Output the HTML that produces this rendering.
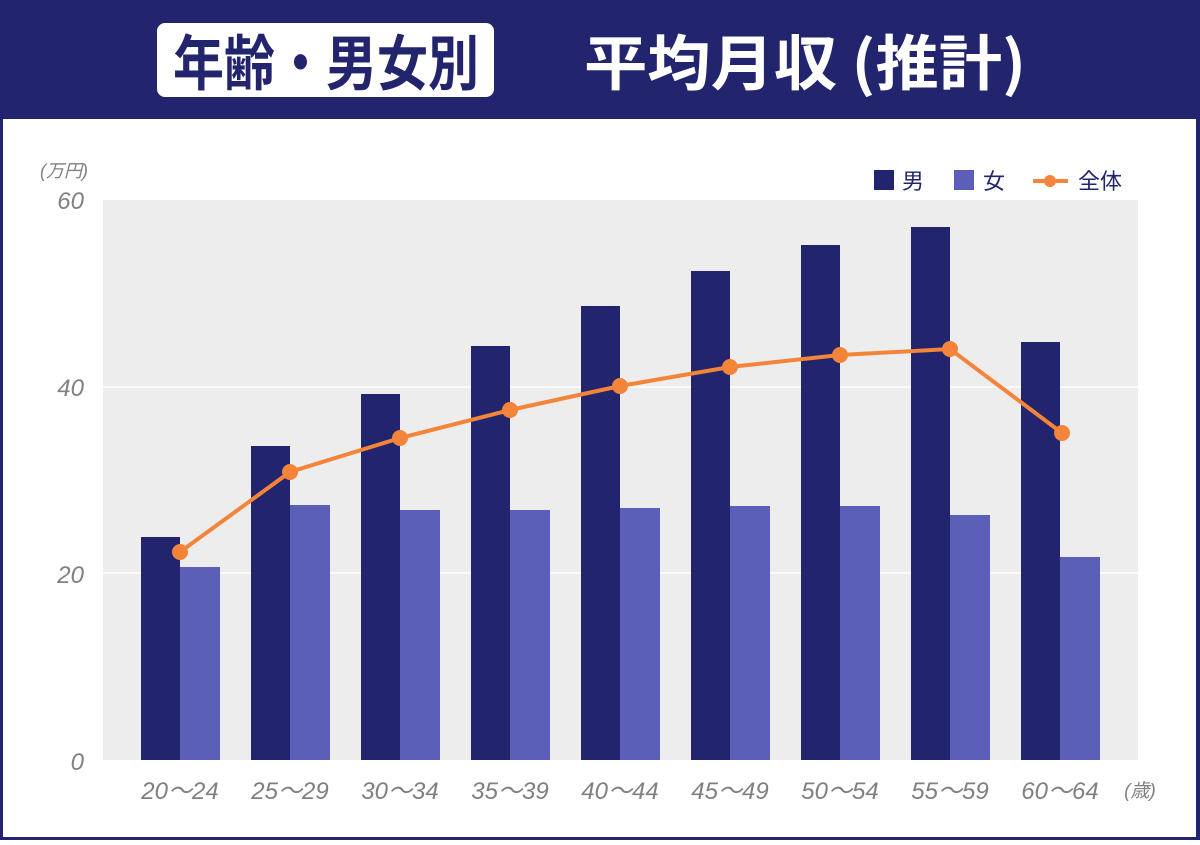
<!DOCTYPE html>
<html><head><meta charset="utf-8"><style>
body{margin:0;width:1200px;height:840px;overflow:hidden;background:#fff;font-family:"Liberation Sans","Noto Sans CJK JP",sans-serif}
</style></head><body>
<svg width="1200" height="840" xmlns="http://www.w3.org/2000/svg" font-family="Liberation Sans, Noto Sans CJK JP, sans-serif">
<rect x="0" y="0" width="1200" height="840" fill="#22256e"/>
<rect x="3" y="119" width="1193" height="718" fill="#fff"/>
<rect x="157" y="23" width="337" height="74" rx="8" fill="#fff"/>
<text x="173" y="85" font-size="60" font-weight="bold" fill="#22256e" font-family="Noto Sans CJK JP, sans-serif" textLength="306" lengthAdjust="spacingAndGlyphs">年齢・男女別</text>
<text x="584" y="85" font-size="60" font-weight="bold" fill="#fff" font-family="Noto Sans CJK JP, sans-serif" textLength="442" lengthAdjust="spacingAndGlyphs">平均月収 (推計)</text>
<rect x="103" y="200" width="1035" height="560" fill="#ededed"/>
<g stroke="#fff" stroke-width="1.5"><line x1="103" y1="387" x2="1138" y2="387"/><line x1="103" y1="573" x2="1138" y2="573"/></g>
<g fill="#808080" font-style="italic" font-size="24" text-anchor="end">
<text x="84" y="209">60</text><text x="84" y="396">40</text><text x="84" y="583">20</text><text x="84" y="770">0</text>
<text x="88" y="177" font-size="18">(万円)</text>
</g>
<g fill="#22256e">
<rect x="141" y="537" width="39" height="223"/><rect x="251" y="446" width="39" height="314"/><rect x="361" y="394" width="39" height="366"/><rect x="471" y="346" width="39" height="414"/><rect x="581" y="306" width="39" height="454"/><rect x="691" y="271" width="39" height="489"/><rect x="801" y="245" width="39" height="515"/><rect x="911" y="227" width="39" height="533"/><rect x="1021" y="342" width="39" height="418"/>
</g>
<g fill="#5b5fb8">
<rect x="180" y="567" width="40" height="193"/><rect x="290" y="505" width="40" height="255"/><rect x="400" y="510" width="40" height="250"/><rect x="510" y="510" width="40" height="250"/><rect x="620" y="508" width="40" height="252"/><rect x="730" y="506" width="40" height="254"/><rect x="840" y="506" width="40" height="254"/><rect x="950" y="515" width="40" height="245"/><rect x="1060" y="557" width="40" height="203"/>
</g>
<polyline points="180,552 290,472 400,438 510,410 620,386 730,367 840,355 950,349 1062,433" fill="none" stroke="#f4843a" stroke-width="4"/>
<g fill="#f4843a">
<circle cx="180" cy="552" r="8"/><circle cx="290" cy="472" r="8"/><circle cx="400" cy="438" r="8"/><circle cx="510" cy="410" r="8"/><circle cx="620" cy="386" r="8"/><circle cx="730" cy="367" r="8"/><circle cx="840" cy="355" r="8"/><circle cx="950" cy="349" r="8"/><circle cx="1062" cy="433" r="8"/>
</g>
<g fill="#808080" font-style="italic" font-size="24" text-anchor="middle">
<text x="180" y="799">20～24</text><text x="290" y="799">25～29</text><text x="400" y="799">30～34</text><text x="510" y="799">35～39</text><text x="620" y="799">40～44</text><text x="730" y="799">45～49</text><text x="840" y="799">50～54</text><text x="950" y="799">55～59</text><text x="1060" y="799">60～64</text>
<text x="1140" y="797" font-size="19">(歳)</text>
</g>
<rect x="874" y="170" width="20" height="20" fill="#22256e"/>
<rect x="954" y="170" width="20" height="20" fill="#5b5fb8"/>
<line x1="1033" y1="181" x2="1068" y2="181" stroke="#f4843a" stroke-width="4"/>
<circle cx="1050" cy="181" r="6" fill="#f4843a"/>
<g fill="#22256e" font-size="22" font-family="Noto Sans CJK JP, sans-serif">
<text x="902" y="189">男</text><text x="983" y="189">女</text><text x="1078" y="189">全体</text>
</g>
</svg>
</body></html>
